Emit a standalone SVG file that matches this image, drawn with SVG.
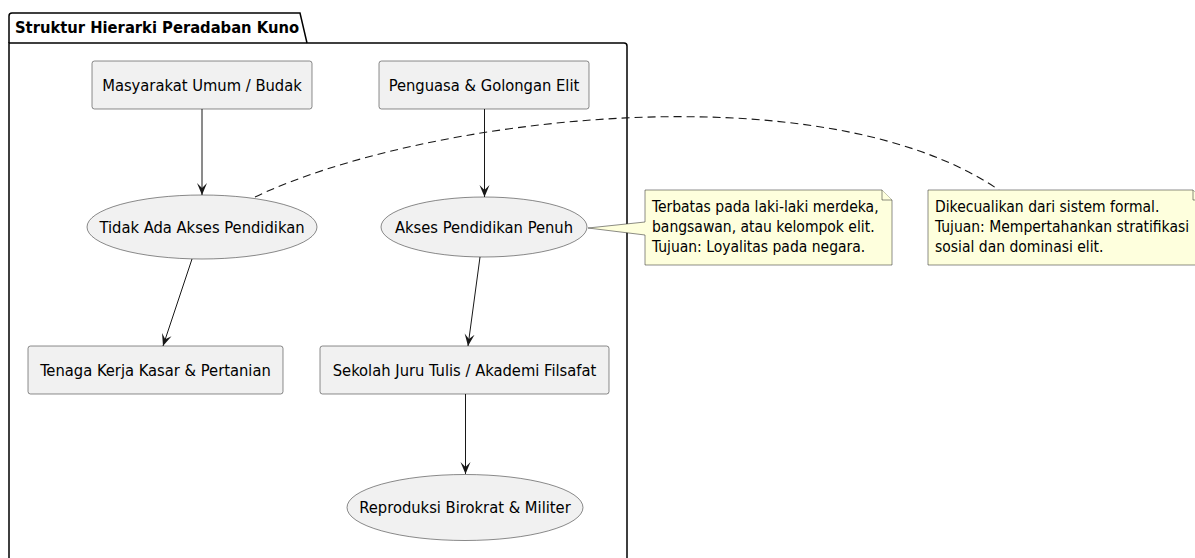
<svg xmlns="http://www.w3.org/2000/svg" width="1195" height="558" viewBox="0 0 1195 558">
<style>
.frame{fill:none;stroke:#000;stroke-width:1.5}
.box{fill:#F1F1F1;stroke:#181818;stroke-width:0.5}
.note{fill:#FEFFDD;stroke:#181818;stroke-width:0.5}
.t{font-family:"DejaVu Sans Condensed","DejaVu Sans",sans-serif;font-stretch:condensed;font-size:16.4px;fill:#000}
.nt{font-family:"DejaVu Sans Condensed","DejaVu Sans",sans-serif;font-stretch:condensed;font-size:15.5px;fill:#000}
.title{font-family:"DejaVu Sans Condensed","DejaVu Sans",sans-serif;font-stretch:condensed;font-size:16.4px;font-weight:bold;fill:#000}
.edge{fill:none;stroke:#181818;stroke-width:1}
.dash{fill:none;stroke:#181818;stroke-width:1.1;stroke-dasharray:8,5}
</style>
<defs>
<marker id="ah" viewBox="0 0 12 12" refX="12" refY="6" markerWidth="12" markerHeight="12" markerUnits="userSpaceOnUse" orient="auto">
<path d="M0,1 L12,6 L0,11 L5,6 Z" fill="#181818"/>
</marker>
</defs>
<rect width="1195" height="558" fill="#fff"/>
<g id="package">
<path class="frame" d="M9,43 L9,16 Q9,13 12,13 L300,13 L307,43"/>
<path class="frame" d="M9,43 L624,43 Q627,43 627,46 L627,562 L9,562 Z"/>
<text class="title" x="15" y="33">Struktur Hierarki Peradaban Kuno</text>
</g>
<g id="connectors">
<line class="edge" x1="202" y1="109" x2="202" y2="195" marker-end="url(#ah)"/>
<line class="edge" x1="484.5" y1="109" x2="484.5" y2="197" marker-end="url(#ah)"/>
<line class="edge" x1="192" y1="259" x2="163" y2="346" marker-end="url(#ah)"/>
<line class="edge" x1="480" y1="257" x2="468" y2="346" marker-end="url(#ah)"/>
<line class="edge" x1="465.5" y1="394" x2="465.5" y2="474" marker-end="url(#ah)"/>
<path class="dash" d="M255,197 C420,118 820,68 999,190"/>
</g>
<g id="masyarakat">
<rect class="box" x="92" y="61" width="220" height="48" rx="2.5"/>
<text class="t" x="202" y="91" text-anchor="middle">Masyarakat Umum / Budak</text>
</g>
<g id="penguasa">
<rect class="box" x="379" y="61" width="210" height="48" rx="2.5"/>
<text class="t" x="484" y="91" text-anchor="middle">Penguasa &amp; Golongan Elit</text>
</g>
<g id="tidak-akses">
<ellipse class="box" cx="202" cy="227" rx="115" ry="32"/>
<text class="t" x="202" y="232.5" text-anchor="middle">Tidak Ada Akses Pendidikan</text>
</g>
<g id="akses-penuh">
<ellipse class="box" cx="484" cy="227" rx="103" ry="30"/>
<text class="t" x="484" y="232.5" text-anchor="middle">Akses Pendidikan Penuh</text>
</g>
<g id="tenaga">
<rect class="box" x="28" y="346" width="255" height="48" rx="2.5"/>
<text class="t" x="155.5" y="376" text-anchor="middle">Tenaga Kerja Kasar &amp; Pertanian</text>
</g>
<g id="sekolah">
<rect class="box" x="320" y="346" width="289" height="48" rx="2.5"/>
<text class="t" x="464.5" y="376" text-anchor="middle">Sekolah Juru Tulis / Akademi Filsafat</text>
</g>
<g id="reproduksi">
<ellipse class="box" cx="465" cy="507.5" rx="118" ry="33"/>
<text class="t" x="465" y="513" text-anchor="middle">Reproduksi Birokrat &amp; Militer</text>
</g>
<g id="note1">
<path class="note" d="M645,190 L882,190 L892,200 L892,265 L645,265 L645,235 L588,228 L645,222 Z"/>
<path class="note" d="M882,190 L882,200 L892,200"/>
<text class="nt" x="652" y="212">Terbatas pada laki-laki merdeka,</text>
<text class="nt" x="652" y="232">bangsawan, atau kelompok elit.</text>
<text class="nt" x="652" y="251.5">Tujuan: Loyalitas pada negara.</text>
</g>
<g id="note2">
<path class="note" d="M928,190 L1193,190 L1203,200 L1203,265 L928,265 Z"/>
<path class="note" d="M1193,190 L1193,200 L1203,200"/>
<text class="nt" x="935" y="212">Dikecualikan dari sistem formal.</text>
<text class="nt" x="935" y="232">Tujuan: Mempertahankan stratifikasi</text>
<text class="nt" x="935" y="251.5">sosial dan dominasi elit.</text>
</g>
</svg>
